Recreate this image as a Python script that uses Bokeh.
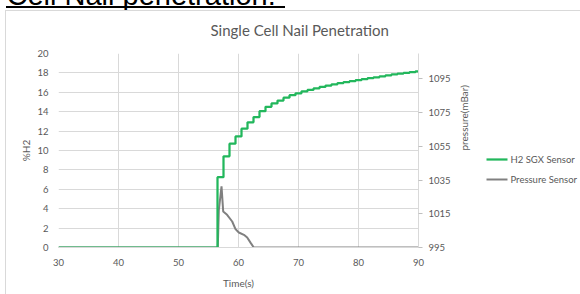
import math
from bokeh.plotting import figure
from bokeh.models import Range1d, LinearAxis, Title, InlineStyleSheet
from bokeh.embed import file_html
from bokeh.resources import INLINE

# ---- data ----
h2_time = [30, 56.5, 57.5, 58.5, 59.5, 60.5, 61.5, 62.5, 63.5, 64.5, 65.5, 66.5, 67.5,
           68.5, 69.5, 70.5, 71.5, 72.5, 73.5, 74.5, 75.5, 76.5, 77.5, 78.5, 79.5,
           80.5, 81.5, 82.5, 83.5, 84.5, 85.5, 86.5, 87.5, 88.5, 89.5, 90]
h2_pct = [0, 7.25, 9.4, 10.7, 11.45, 12.25, 12.9, 13.45, 14.05, 14.5, 14.85, 15.15, 15.45,
          15.7, 15.9, 16.1, 16.25, 16.4, 16.55, 16.7, 16.82, 16.95, 17.05, 17.15, 17.25,
          17.35, 17.45, 17.55, 17.65, 17.75, 17.85, 17.93, 18.0, 18.08, 18.16, 18.22]

p_time = [30, 56.55, 56.72, 57.17, 57.45, 58.1, 58.95, 59.5, 60.05, 60.9, 61.45, 62.0, 62.55, 90]
p_mbar = [995, 995, 1017.2, 1031.2, 1016.4, 1014.4, 1010.4, 1005.9, 1003.9, 1002.5, 1000.9, 997.9, 995, 995]

x_ticks = [30, 40, 50, 60, 70, 80, 90]
y_ticks = [0, 2, 4, 6, 8, 10, 12, 14, 16, 18, 20]
p_ticks = [995, 1015, 1035, 1055, 1075, 1095]

series_names = ["H2 SGX Sensor", "Pressure Sensor"]
title_text = "Single Cell Nail Penetration"
heading_text = "Cell Nail penetration:"

GREEN = "#22b75c"
GRAY = "#808080"
TXT = "#595959"
GRID = "#d9d9d9"
FONT = "Lato"

# legend rows: pixel heights above the plot-area bottom (layout, not data)
LEGEND_ROW = [88, 68]

css = InlineStyleSheet(css="""
:host { position: relative; }
:host::before { content: ""; position: absolute; left: 14px; top: 23.5px; width: 279px;
  height: 2.5px; background: #000; z-index: 10; pointer-events: none; }
:host::after { content: ""; position: absolute; left: 13px; top: 28px; width: 575px;
  height: 284px; box-sizing: border-box; border-left: 1px solid #d9d9d9;
  border-top: 1px solid #d9d9d9; z-index: 10; pointer-events: none; }
""")

p = figure(frame_width=360, frame_height=194, output_backend="svg", toolbar_location=None,
           x_range=Range1d(30, 90), y_range=Range1d(0, 20),
           min_border_left=66, min_border_right=162, min_border_top=71, min_border_bottom=47,
           margin=(-18, 0, 0, -8), stylesheets=[css])
p.extra_y_ranges = {"pressure": Range1d(995, 1110), "legend": Range1d(0, 194)}
p.outline_line_color = None
p.background_fill_color = "white"
p.border_fill_color = "white"

# heading (outermost, partly above the window)
p.title = Title(text=heading_text, align="left", offset=-52, vertical_align="middle",
                standoff=-13.4, text_font="Liberation Sans", text_font_size="29px",
                text_font_style="normal", text_color="black")
# chart title (nearest to the frame)
p.add_layout(Title(text=title_text, align="left", offset=152, vertical_align="middle",
                   standoff=28.1, text_font=FONT, text_font_size="15px",
                   text_font_style="normal", text_color=TXT), "above")

p.xgrid.ticker = x_ticks
p.ygrid.ticker = y_ticks
p.grid.grid_line_color = GRID
p.grid.grid_line_width = 1

def style_axis(ax):
    ax.major_label_text_font = FONT
    ax.major_label_text_font_size = "9.5px"
    ax.major_label_text_color = TXT
    ax.axis_label_text_font = FONT
    ax.axis_label_text_font_size = "10px"
    ax.axis_label_text_color = TXT
    ax.axis_label_text_font_style = "normal"
    ax.minor_tick_line_color = None
    ax.minor_tick_out = 0
    ax.minor_tick_in = 0

xa = p.xaxis[0]
xa.ticker = x_ticks
xa.axis_label = "Time(s)"
style_axis(xa)
xa.axis_line_color = GRID
xa.major_tick_line_color = None
xa.major_label_standoff = 5
xa.axis_label_standoff = 8

ya = p.yaxis[0]
ya.ticker = y_ticks
ya.axis_label = "%H2"
style_axis(ya)
ya.axis_line_color = None
ya.major_tick_line_color = None
ya.major_label_standoff = 4
ya.axis_label_standoff = 2

ra = LinearAxis(y_range_name="pressure", axis_label="pressure(mBar)", ticker=p_ticks)
style_axis(ra)
ra.axis_line_color = GRID
ra.major_tick_line_color = "#bfbfbf"
ra.major_tick_out = 4
ra.major_tick_in = 0
ra.major_label_standoff = 6
ra.axis_label_standoff = 10
if "axis_label_orientation" in ra.properties():
    ra.axis_label_orientation = math.pi / 2
p.add_layout(ra, "right")

r_p = p.line(p_time, p_mbar, y_range_name="pressure", line_color=GRAY, line_width=2)
r_h2 = p.step(h2_time, h2_pct, mode="after", line_color=GREEN, line_width=2.25)

# legend, built in the right-hand margin: sample lines + labels
leg_h2 = LinearAxis(y_range_name="legend", ticker=[LEGEND_ROW[0]],
                    major_label_overrides={LEGEND_ROW[0]: ""})
style_axis(leg_h2)
leg_h2.axis_line_color = None
leg_h2.major_tick_line_color = GREEN
leg_h2.major_tick_line_width = 2.25
leg_h2.major_tick_in = -8
leg_h2.major_tick_out = 29
leg_h2.major_label_standoff = 0
p.add_layout(leg_h2, "right")

leg_p = LinearAxis(y_range_name="legend", ticker=[LEGEND_ROW[1]],
                   major_label_overrides={LEGEND_ROW[1]: ""})
style_axis(leg_p)
leg_p.axis_line_color = None
leg_p.major_tick_line_color = GRAY
leg_p.major_tick_line_width = 2
leg_p.major_tick_in = 21
leg_p.major_tick_out = 0
leg_p.major_label_standoff = 0
p.add_layout(leg_p, "right")

leg_lbl = LinearAxis(y_range_name="legend", ticker=LEGEND_ROW,
                     major_label_overrides={LEGEND_ROW[0]: series_names[0],
                                            LEGEND_ROW[1]: series_names[1]})
style_axis(leg_lbl)
leg_lbl.axis_line_color = None
leg_lbl.major_tick_line_color = None
leg_lbl.major_tick_in = 0
leg_lbl.major_tick_out = 0
leg_lbl.major_label_standoff = 3
p.add_layout(leg_lbl, "right")

open("out.html", "w").write(file_html(p, INLINE))
